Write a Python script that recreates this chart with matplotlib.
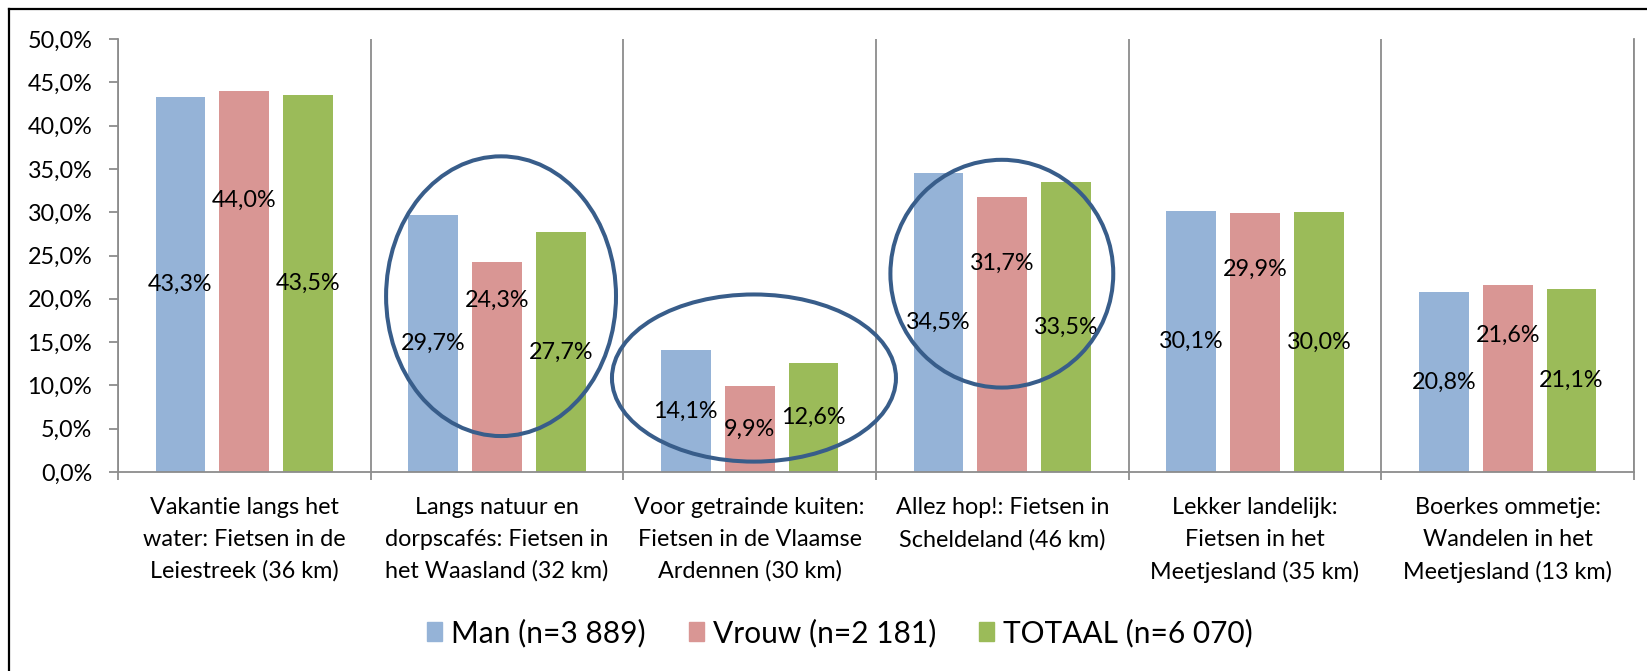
import matplotlib
matplotlib.use("Agg")
import matplotlib.pyplot as plt
from matplotlib.patches import Ellipse, Patch
from matplotlib.lines import Line2D
import numpy as np

plt.rcParams["font.family"] = ["Lato", "DejaVu Sans"]

categories = [
    "Vakantie langs het\nwater: Fietsen in de\nLeiestreek (36 km)",
    "Langs natuur en\ndorpscafés: Fietsen in\nhet Waasland (32 km)",
    "Voor getrainde kuiten:\nFietsen in de Vlaamse\nArdennen (30 km)",
    "Allez hop!: Fietsen in\nScheldeland (46 km)",
    "Lekker landelijk:\nFietsen in het\nMeetjesland (35 km)",
    "Boerkes ommetje:\nWandelen in het\nMeetjesland (13 km)",
]
man = [43.3, 29.7, 14.1, 34.5, 30.1, 20.8]
vrouw = [44.0, 24.3, 9.9, 31.7, 29.9, 21.6]
totaal = [43.5, 27.7, 12.6, 33.5, 30.0, 21.1]
series_names = ["Man (n=3 889)", "Vrouw (n=2 181)", "TOTAAL (n=6 070)"]
y_ticks = [0, 5, 10, 15, 20, 25, 30, 35, 40, 45, 50]

# the Vrouw labels were dragged by hand in the original
vrouw_label_y = [31.4, 19.8, 4.95, 24.1, 23.4, 15.8]

colors = ["#95B3D7", "#D99694", "#9BBB59"]
grid_c = "#8C8C8C"
ring_c = "#385D8A"

W, H = 1647, 671
fig = plt.figure(figsize=(W / 100, H / 100), dpi=100)
ax = fig.add_axes([118 / W, 1 - 472 / H, (1634 - 118) / W, (472 - 39) / H])

x = np.arange(len(categories))
bw, step = 0.197, 0.253
for i, (vals, c) in enumerate(zip([man, vrouw, totaal], colors)):
    ax.bar(x + (i - 1) * step, vals, width=bw, color=c, zorder=2)

def fmt(v):
    return f"{v:.1f}".replace(".", ",") + "%"

fs = 16.8
for j in range(len(categories)):
    ax.text(x[j] - step, man[j] / 2, fmt(man[j]), ha="center", va="center", fontsize=fs, zorder=4)
    ax.text(x[j], vrouw_label_y[j], fmt(vrouw[j]), ha="center", va="center", fontsize=fs, zorder=4)
    ax.text(x[j] + step, totaal[j] / 2, fmt(totaal[j]), ha="center", va="center", fontsize=fs, zorder=4)

ax.set_xlim(-0.5, len(categories) - 0.5)
ax.set_ylim(0, 50)
ax.set_yticks(y_ticks)
ax.set_yticklabels([f"{t:.1f}".replace(".", ",") + "%" for t in y_ticks], fontsize=fs)
ax.set_xticks(x)
ax.set_xticklabels(categories, fontsize=fs, linespacing=1.62)
ax.set_xticks(np.arange(-0.5, len(categories)), minor=True)
ax.tick_params(axis="x", which="major", length=0, pad=18)
ax.tick_params(axis="x", which="minor", length=6, width=1.3, color=grid_c)
ax.tick_params(axis="y", length=6.5, width=1.3, color=grid_c, pad=12)
ax.grid(axis="x", which="minor", color=grid_c, lw=1.3, zorder=1)
ax.set_axisbelow(True)
for s in ["left", "bottom", "right"]:
    ax.spines[s].set_color(grid_c)
    ax.spines[s].set_linewidth(1.3)
ax.spines["top"].set_visible(False)

# highlight rings (data coords)
for cx, cy, w, h in [(1.016, 20.3, 0.91, 32.3), (2.017, 10.85, 1.124, 19.3), (2.998, 22.9, 0.882, 26.3)]:
    ax.add_patch(Ellipse((cx, cy), w, h, fill=False, ec=ring_c, lw=2.9, zorder=5, clip_on=False))

handles = [Patch(color=c) for c in colors]
fig.legend(handles, series_names, loc="center", bbox_to_anchor=(840 / W, 1 - 633 / H),
           ncol=3, frameon=False, fontsize=21.5, handlelength=0.5, handleheight=0.6,
           handletextpad=0.3, columnspacing=1.45)

# outer frame (only left and top edges visible in the crop)
fig.add_artist(Line2D([8.5 / W, 8.5 / W], [0, 1 - 9 / H], color="black", lw=1.6, transform=fig.transFigure))
fig.add_artist(Line2D([8.5 / W, 1], [1 - 9 / H, 1 - 9 / H], color="black", lw=1.6, transform=fig.transFigure))

fig.savefig("out.png", dpi=100)
